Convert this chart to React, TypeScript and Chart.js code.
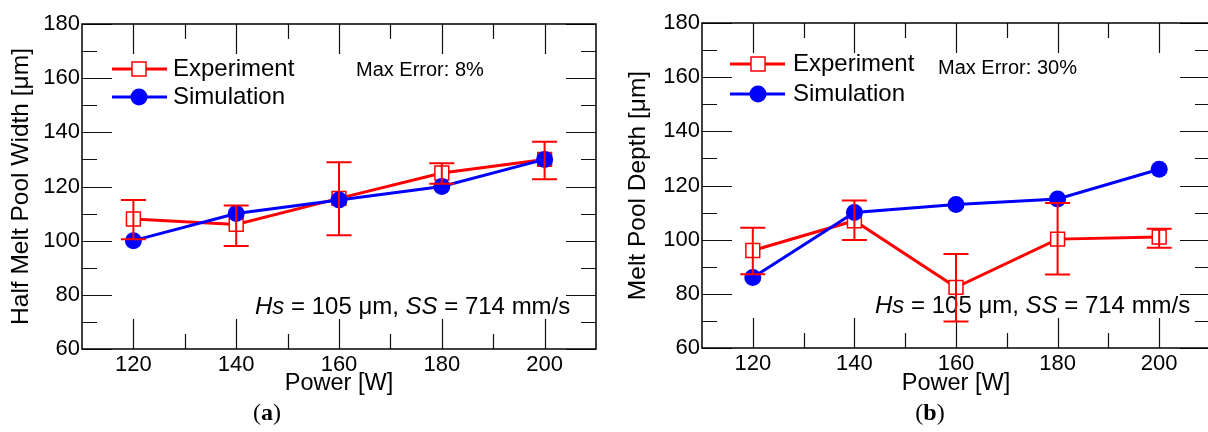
import React, { useEffect, useRef } from "react";
import { Chart, registerables } from "chart.js";

Chart.register(...registerables);

// ---------- data ----------
const powers = [120, 140, 160, 180, 200];
const xTickValues = [120, 140, 160, 180, 200];
const xMinorValues = [130, 150, 170, 190];
const yTickValues = [60, 80, 100, 120, 140, 160, 180];
const yMinorValues = [70, 90, 110, 130, 150, 170];

const widthExp = [108, 106, 115.6, 125, 130];
const widthExpLow = [100.5, 98, 102, 121, 122.7];
const widthExpHigh = [115, 113, 129, 128.6, 136.5];
const widthSim = [100, 110, 115, 120, 130];

const depthExp = [96, 107, 82.4, 100.2, 101];
const depthExpLow = [87.2, 99.9, 69.8, 87.1, 97];
const depthExpHigh = [104.4, 114.5, 94.7, 113.5, 104];
const depthSim = [86, 110, 113, 115, 126];

const seriesLabels = ["Experiment", "Simulation"];
const maxErrorA = "Max Error: 8%";
const maxErrorB = "Max Error: 30%";

const RED = "#ff0000";
const BLUE = "#0000ff";
const SANS = "'Liberation Sans', Arial, sans-serif";

type PanelCfg = {
  exp: number[];
  expLow: number[];
  expHigh: number[];
  sim: number[];
  yTitle: string;
  maxError: string;
  canvasW: number;
  yAxisW: number;
  xAxisH: number;
  padTop: number;
  padRight: number;
  yTitlePad: number;
  legend: { lineX0: number; lineX1: number; markX: number; row1: number; row2: number; textX: number };
  maxErr: { x: number; y: number };
  note: { x: number; y: number };
};

const framePlugin = {
  id: "frameTicks",
  beforeDatasetsDraw(chart: any) {
    const { ctx, chartArea: a, scales } = chart;
    const xs = scales.x;
    const ys = scales.y;
    ctx.save();
    ctx.strokeStyle = "#111";
    ctx.lineWidth = 1.2;
    ctx.beginPath();
    const tick = (x0: number, y0: number, x1: number, y1: number) => {
      ctx.moveTo(x0, y0);
      ctx.lineTo(x1, y1);
    };
    xTickValues.forEach((v) => {
      const px = Math.round(xs.getPixelForValue(v)) + 0.5;
      tick(px, a.bottom, px, a.bottom - 30);
      tick(px, a.top, px, a.top + 30);
    });
    xMinorValues.forEach((v) => {
      const px = Math.round(xs.getPixelForValue(v)) + 0.5;
      tick(px, a.bottom, px, a.bottom - 15);
      tick(px, a.top, px, a.top + 15);
    });
    yTickValues.forEach((v) => {
      const py = Math.round(ys.getPixelForValue(v)) + 0.5;
      tick(a.left, py, a.left + 30, py);
      tick(a.right, py, a.right - 30, py);
    });
    yMinorValues.forEach((v) => {
      const py = Math.round(ys.getPixelForValue(v)) + 0.5;
      tick(a.left, py, a.left + 15, py);
      tick(a.right, py, a.right - 15, py);
    });
    ctx.stroke();
    ctx.strokeStyle = "#000";
    ctx.lineWidth = 1.5;
    ctx.strokeRect(a.left, a.top, a.right - a.left, a.bottom - a.top);
    ctx.restore();
  },
};

function makeConfig(p: PanelCfg) {
  const annotationPlugin = {
    id: "annotations",
    beforeDatasetsDraw(chart: any) {
      const { ctx, chartArea: a } = chart;
      ctx.save();
      ctx.fillStyle = "#000";
      ctx.textBaseline = "middle";
      ctx.textAlign = "left";
      // max error
      ctx.font = `20px ${SANS}`;
      ctx.fillText(p.maxError, a.left + p.maxErr.x, a.top + p.maxErr.y);
      // Hs / SS note with italic parts
      const parts: [string, boolean][] = [
        ["Hs", true],
        [" = 105 \u03bcm, ", false],
        ["SS", true],
        [" = 714 mm/s", false],
      ];
      let x = a.left + p.note.x;
      const y = a.top + p.note.y;
      parts.forEach(([t, it]) => {
        ctx.font = `${it ? "italic " : ""}24px ${SANS}`;
        ctx.fillText(t, x, y);
        x += ctx.measureText(t).width;
      });
      ctx.restore();
    },
    afterDatasetsDraw(chart: any) {
      const { ctx, chartArea: a, scales } = chart;
      const xs = scales.x;
      const ys = scales.y;
      ctx.save();
      // error bars
      ctx.strokeStyle = RED;
      ctx.lineWidth = 2;
      ctx.beginPath();
      powers.forEach((v, i) => {
        const px = xs.getPixelForValue(v);
        const lo = ys.getPixelForValue(p.expLow[i]);
        const hi = ys.getPixelForValue(p.expHigh[i]);
        ctx.moveTo(px, lo);
        ctx.lineTo(px, hi);
        ctx.moveTo(px - 12.5, lo);
        ctx.lineTo(px + 12.5, lo);
        ctx.moveTo(px - 12.5, hi);
        ctx.lineTo(px + 12.5, hi);
      });
      ctx.stroke();
      // legend
      const L = p.legend;
      const rows = [
        { y: a.top + L.row1, color: RED, label: chart.data.datasets[0].label, square: true },
        { y: a.top + L.row2, color: BLUE, label: chart.data.datasets[1].label, square: false },
      ];
      rows.forEach((r) => {
        ctx.strokeStyle = r.color;
        ctx.lineWidth = 3;
        ctx.beginPath();
        ctx.moveTo(a.left + L.lineX0, r.y);
        ctx.lineTo(a.left + L.lineX1, r.y);
        ctx.stroke();
        const mx = a.left + L.markX;
        if (r.square) {
          ctx.fillStyle = "#fff";
          ctx.fillRect(mx - 7, r.y - 7, 14, 14);
          ctx.lineWidth = 1.5;
          ctx.strokeRect(mx - 7, r.y - 7, 14, 14);
        } else {
          ctx.fillStyle = r.color;
          ctx.beginPath();
          ctx.arc(mx, r.y, 8.5, 0, Math.PI * 2);
          ctx.fill();
        }
        ctx.fillStyle = "#000";
        ctx.font = `24px ${SANS}`;
        ctx.textBaseline = "middle";
        ctx.textAlign = "left";
        ctx.fillText(r.label, a.left + L.textX, r.y);
      });
      ctx.restore();
    },
  };

  const tickFont = { family: SANS, size: 22 };
  const xTitleFont = { family: SANS, size: 23.5 };
  const yTitleFont = { family: SANS, size: 24.5 };
  return {
    type: "line",
    data: {
      datasets: [
        {
          label: seriesLabels[0],
          data: powers.map((x, i) => ({ x, y: p.exp[i] })),
          borderColor: RED,
          borderWidth: 3,
          pointStyle: "rect",
          pointRadius: 9.8,
          pointBackgroundColor: "#ffffff",
          pointBorderColor: RED,
          pointBorderWidth: 1.5,
          tension: 0,
          order: 2,
        },
        {
          label: seriesLabels[1],
          data: powers.map((x, i) => ({ x, y: p.sim[i] })),
          borderColor: BLUE,
          borderWidth: 3,
          pointStyle: "circle",
          pointRadius: 8.5,
          pointBackgroundColor: BLUE,
          pointBorderColor: BLUE,
          pointBorderWidth: 0,
          tension: 0,
          order: 1,
        },
      ],
    },
    options: {
      animation: false,
      responsive: false,
      maintainAspectRatio: false,
      events: [],
      layout: { padding: { left: 0, top: p.padTop, right: p.padRight, bottom: 34 } },
      plugins: { legend: { display: false }, tooltip: { enabled: false } },
      scales: {
        x: {
          type: "linear",
          min: 110,
          max: 210,
          afterBuildTicks: (s: any) => {
            s.ticks = xTickValues.map((v) => ({ value: v }));
          },
          afterFit: (s: any) => {
            s.height = p.xAxisH;
          },
          grid: { display: false, drawTicks: false },
          border: { display: false },
          ticks: { font: tickFont, color: "#000", padding: 3, maxRotation: 0, autoSkip: false },
          title: {
            display: true,
            text: "Power [W]",
            font: xTitleFont,
            color: "#000",
            padding: { top: 0, bottom: 0 },
          },
        },
        y: {
          type: "linear",
          min: 60,
          max: 180,
          afterBuildTicks: (s: any) => {
            s.ticks = yTickValues.map((v) => ({ value: v }));
          },
          afterFit: (s: any) => {
            s.width = p.yAxisW;
          },
          grid: { display: false, drawTicks: false },
          border: { display: false },
          ticks: { font: tickFont, color: "#000", padding: 2, autoSkip: false },
          title: {
            display: true,
            text: p.yTitle,
            font: yTitleFont,
            color: "#000",
            padding: { top: p.yTitlePad, bottom: 0 },
          },
        },
      },
    },
    plugins: [framePlugin, annotationPlugin],
  };
}

const panelA: PanelCfg = {
  exp: widthExp,
  expLow: widthExpLow,
  expHigh: widthExpHigh,
  sim: widthSim,
  yTitle: "Half Melt Pool Width [\u03bcm]",
  maxError: maxErrorA,
  canvasW: 608,
  yAxisW: 82,
  xAxisH: 49,
  padTop: 24,
  padRight: 12,
  yTitlePad: 7,
  legend: { lineX0: 30, lineX1: 85, markX: 57, row1: 45, row2: 73, textX: 91 },
  maxErr: { x: 274, y: 46 },
  note: { x: 173, y: 283 },
};

const panelB: PanelCfg = {
  exp: depthExp,
  expLow: depthExpLow,
  expHigh: depthExpHigh,
  sim: depthSim,
  yTitle: "Melt Pool Depth [\u03bcm]",
  maxError: maxErrorB,
  canvasW: 618,
  yAxisW: 98,
  xAxisH: 50,
  padTop: 23,
  padRight: 12,
  yTitlePad: 20,
  legend: { lineX0: 28, lineX1: 83, markX: 56, row1: 41, row2: 71, textX: 91 },
  maxErr: { x: 236, y: 45 },
  note: { x: 173, y: 283 },
};

function Panel({ cfg, left }: { cfg: PanelCfg; left: number }) {
  const ref = useRef<HTMLCanvasElement>(null);
  useEffect(() => {
    if (!ref.current) return;
    const chart = new Chart(ref.current, makeConfig(cfg) as any);
    return () => chart.destroy();
  }, [cfg]);
  return (
    <canvas
      ref={ref}
      width={cfg.canvasW}
      height={432}
      style={{ position: "absolute", left, top: 0, width: cfg.canvasW, height: 432 }}
    />
  );
}

const capStyle: React.CSSProperties = {
  position: "absolute",
  top: 397,
  width: 60,
  textAlign: "center",
  fontFamily: "'Liberation Serif', 'Times New Roman', serif",
  fontSize: 24,
  lineHeight: "30px",
  color: "#000",
};

export default function App() {
  return (
    <div
      style={{
        position: "fixed",
        left: 0,
        top: 0,
        width: 1208,
        height: 432,
        background: "#fff",
        overflow: "hidden",
      }}
    >
      <Panel cfg={panelA} left={0} />
      <Panel cfg={panelB} left={604} />
      <div style={{ ...capStyle, left: 267 - 30 }}>
        (<b>a</b>)
      </div>
      <div style={{ ...capStyle, left: 930 - 30 }}>
        (<b>b</b>)
      </div>
    </div>
  );
}
